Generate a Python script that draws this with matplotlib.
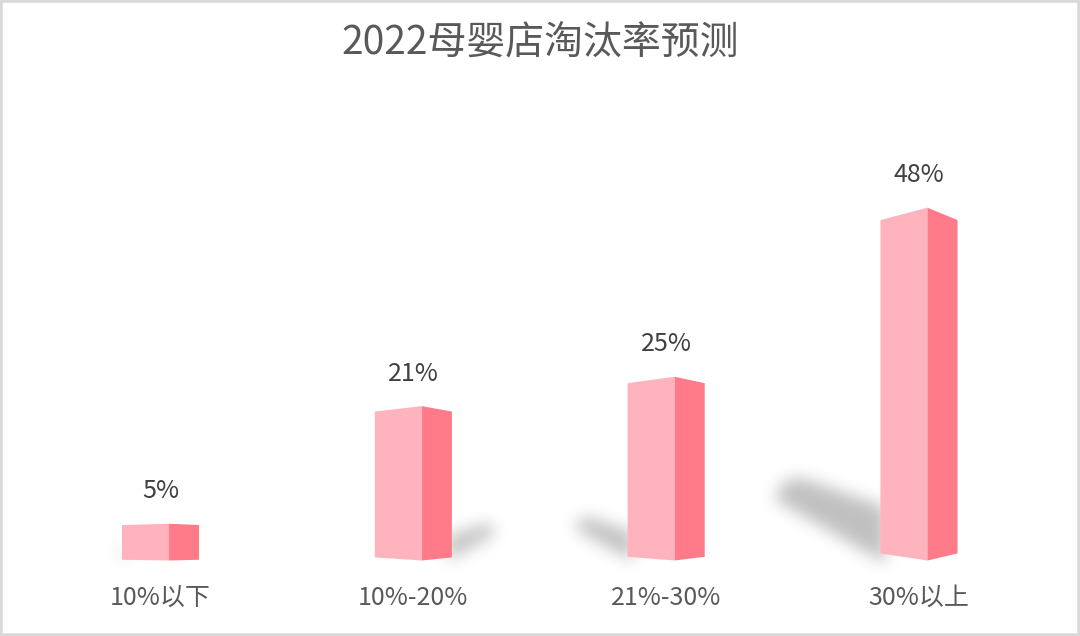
import numpy as np
import matplotlib.pyplot as plt
from matplotlib.patches import Polygon, Rectangle
from matplotlib.path import Path

plt.rcParams['font.family'] = ['Noto Sans CJK SC', 'DejaVu Sans']

# data
title = '2022母婴店淘汰率预测'
categories = ['10%以下', '10%-20%', '21%-30%', '30%以上']
values = [5, 21, 25, 48]

# style
front_color = '#FFB3BD'
side_color = '#FF7B8A'
shadow_dir = [-1, 1, -1, -1]   # which side the shadow falls on
front_w = 0.186
side_w = 0.119
half = (front_w + side_w) / 2

fig = plt.figure(figsize=(10.8, 6.36), dpi=100)
ax = fig.add_axes([34.1 / 1080, 60.8 / 636, 1011.3 / 1080, 529.2 / 636])
xlim = (-0.5, 3.5)
ylim = (-2, 70)
ax.set_xlim(*xlim)
ax.set_ylim(*ylim)
ax.axis('off')

# soft shadows, rasterised and blurred
nx, ny = 1011, 529
gx = np.linspace(xlim[0], xlim[1], nx)
gy = np.linspace(ylim[0], ylim[1], ny)
XX, YY = np.meshgrid(gx, gy)
pts = np.column_stack([XX.ravel(), YY.ravel()])
mask = np.zeros(XX.shape)
for i, (v, d) in enumerate(zip(values, shadow_dir)):
    x0 = i + d * (half - 0.02)
    poly = [(x0, -0.01 * v),
            (x0 + d * 0.0091 * v, 0.170 * v),
            (x0 + d * 0.0086 * v, 0.215 * v),
            (x0 + d * 0.0072 * v, 0.235 * v),
            (x0, 0.15 * v)]
    mask = np.maximum(mask, Path(poly).contains_points(pts).reshape(XX.shape))

sigma = 8.0
k = np.arange(-26, 27)
kern = np.exp(-k ** 2 / (2 * sigma ** 2))
kern /= kern.sum()
blur = np.apply_along_axis(lambda r: np.convolve(r, kern, mode='same'), 1, mask)
blur = np.apply_along_axis(lambda c: np.convolve(c, kern, mode='same'), 0, blur)
rgba = np.zeros((ny, nx, 4))
rgba[..., 3] = blur * 0.25
ax.imshow(rgba, extent=(*xlim, *ylim), origin='lower', aspect='auto',
          interpolation='bilinear', zorder=1)

# pseudo-3d bars
for i, v in enumerate(values):
    xl = i - half
    xb = xl + front_w
    xr = i + half
    front = [(xl, 0.02 * v), (xb, 0), (xb, v), (xl, 0.965 * v)]
    side = [(xb, 0), (xr, 0.02 * v), (xr, 0.965 * v), (xb, v)]
    ax.add_patch(Polygon(front, closed=True, fc=front_color, ec='none', zorder=3))
    ax.add_patch(Polygon(side, closed=True, fc=side_color, ec='none', zorder=3))
    ax.annotate(f'{v}%', (i, v), xytext=(0, 23.5), textcoords='offset points',
                ha='center', va='center', fontsize=18, color='#404040')
    ax.annotate(categories[i], (i, 0), xytext=(0, -27), textcoords='offset points',
                ha='center', va='center', fontsize=18, color='#595959')

fig.text(0.5, 1 - 43 / 636, title, ha='center', va='center',
         fontsize=28, color='#595959')

fig.add_artist(Rectangle((0, 0), 1, 1, transform=fig.transFigure, fill=False,
                         ec='#d9d9d9', lw=4))

fig.savefig('out.png', dpi=100)
